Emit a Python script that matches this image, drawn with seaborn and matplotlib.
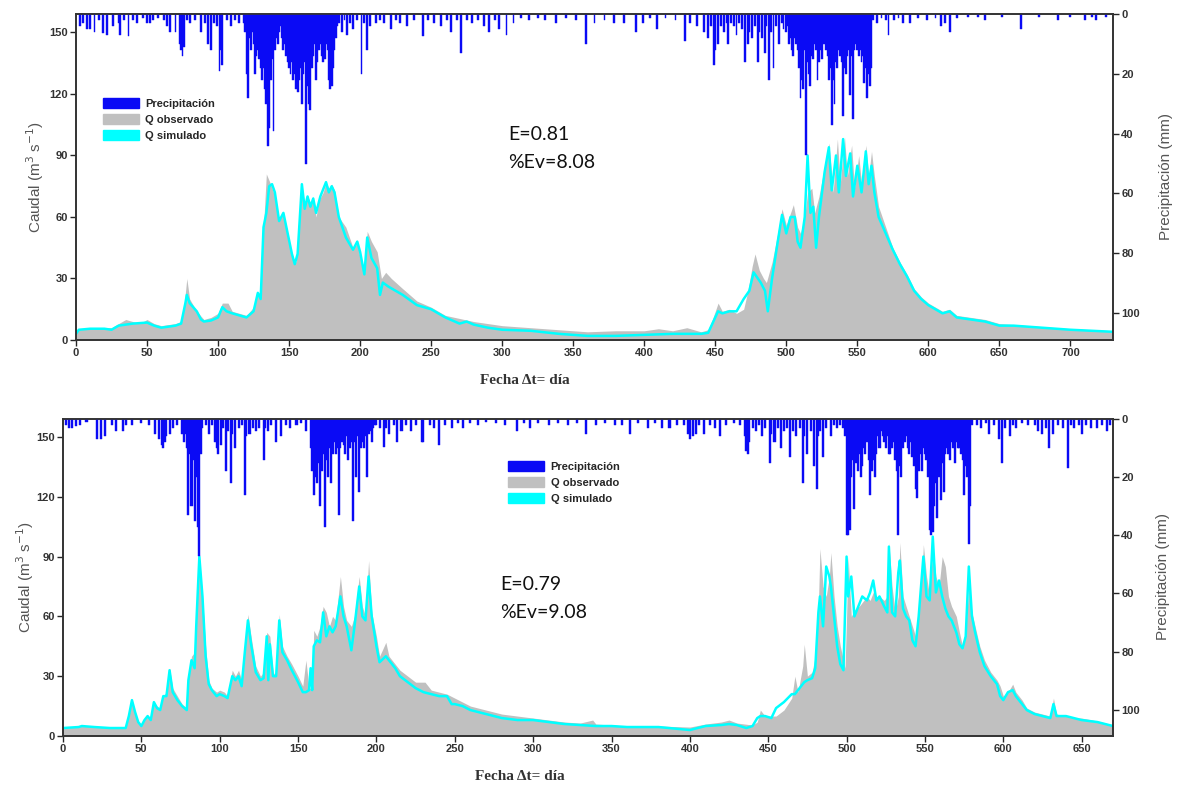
import matplotlib
matplotlib.use("Agg")
import matplotlib.pyplot as plt
from matplotlib.patches import Patch
import seaborn as sns

# ---------------- top panel (730 days) ----------------
TOP_OBS_DAYS = [0, 10, 20, 25, 30, 35, 40, 45, 50, 55, 60, 65, 70, 74, 76, 78, 80, 85, 90, 95,
                100, 103, 107, 110, 115, 120, 125, 128, 130, 132, 134, 137, 140, 143, 146, 149, 152, 155, 157, 159,
                161, 163, 165, 167, 169, 171, 174, 176, 178, 180, 182, 185, 190, 195, 198, 200, 203, 205, 208, 212,
                215, 218, 222, 230, 240, 250, 260, 270, 280, 300, 320, 340, 360, 380, 400, 410, 420, 430, 440, 445,
                448, 450, 452, 455, 460, 465, 470, 473, 476, 478, 481, 484, 486, 490, 494, 497, 500, 503, 505, 508,
                510, 513, 515, 518, 520, 523, 527, 530, 533, 536, 538, 541, 543, 546, 548, 551, 553, 556, 558, 560,
                562, 565, 570, 575, 580, 585, 590, 595, 600, 605, 610, 615, 620, 630, 640, 650, 660, 680, 700, 730]
TOP_OBS_Q = [5, 5.5, 6, 6, 8, 10, 9, 8, 10, 8, 7, 7.5, 8, 9, 16, 30, 20, 14, 10, 11,
             13, 18, 18, 14, 13, 12, 16, 23, 22, 55, 81, 76, 70, 58, 62, 52, 40, 38, 60, 76,
             66, 70, 67, 70, 60, 68, 72, 77, 74, 76, 73, 60, 55, 45, 47, 40, 33, 53, 48, 43,
             30, 33, 30, 25, 19, 16, 12, 10.5, 9, 7, 6, 5, 4, 4.5, 4.5, 5.5, 4.5, 6, 4, 5,
             10, 14, 18, 14, 15, 13, 15, 24, 36, 42, 34, 30, 28, 38, 52, 64, 56, 62, 66, 55,
             52, 60, 72, 74, 62, 70, 85, 96, 72, 98, 76, 99, 80, 95, 74, 90, 76, 95, 80, 92,
             80, 65, 55, 45, 38, 32, 25, 21, 18, 16, 14, 15, 12, 11, 10, 8, 7.5, 6.5, 5.5, 4.5]

TOP_SIM_DAYS = [0, 2, 10, 20, 25, 30, 40, 50, 55, 60, 70, 74, 77, 78, 80, 85, 88, 90, 95, 100,
                103, 106, 110, 115, 120, 125, 128, 130, 132, 134, 136, 138, 140, 143, 146, 149, 152, 154, 156, 159,
                161, 163, 165, 167, 169, 172, 176, 178, 180, 182, 185, 190, 195, 198, 200, 203, 205, 208, 212, 214,
                216, 220, 230, 240, 250, 260, 270, 275, 280, 290, 300, 320, 340, 360, 380, 400, 420, 440, 445, 448,
                452, 455, 460, 465, 470, 474, 477, 479, 482, 485, 487, 490, 494, 497, 500, 503, 506, 508, 510, 513,
                515, 517, 519, 521, 523, 527, 530, 532, 535, 537, 540, 542, 545, 547, 550, 553, 556, 558, 560, 562,
                565, 570, 575, 580, 585, 590, 595, 600, 605, 610, 615, 620, 630, 640, 650, 660, 680, 700, 730]
TOP_SIM_Q = [3, 5, 5.5, 5.5, 5, 7, 8, 8.5, 7, 6, 7, 8, 18, 22, 18, 14, 10, 9, 9.5, 11,
             16, 14, 13, 12, 11, 14, 23, 20, 55, 62, 75, 76, 72, 58, 62, 52, 42, 37, 42, 76,
             64, 70, 65, 69, 62, 70, 77, 72, 75, 72, 60, 50, 44, 48, 43, 32, 50, 40, 35, 22,
             28, 26, 22, 17, 15, 11, 8, 9, 7.5, 6, 5, 4.5, 3, 2, 2, 2.5, 3, 3, 3.5, 8,
             14, 13, 14, 14, 20, 24, 33, 31, 28, 24, 14, 30, 48, 61, 52, 60, 60, 48, 45, 60,
             90, 62, 65, 45, 60, 82, 94, 73, 90, 72, 98, 80, 91, 70, 85, 72, 92, 76, 85, 72,
             60, 52, 44, 37, 31, 24, 20, 17, 15, 13, 14, 11, 10, 9, 7, 7, 6, 5, 4]

TOP_RAIN_DAYS = [3, 5, 8, 10, 13, 16, 19, 22, 26, 30, 31, 34, 37, 40, 43, 47, 50, 52, 54, 58,
                 62, 64, 66, 70, 73, 74, 75, 76, 78, 80, 84, 88, 91, 93, 95, 97, 99, 101, 102, 103,
                 106, 109, 112, 115,
                 118, 119, 120, 121, 122, 123, 124, 125, 126, 127, 128, 129, 130, 131, 132, 133, 134, 135, 136, 137,
                 138, 139, 140, 141, 142, 143, 144, 145, 146, 147, 148, 149, 150, 151, 152, 153, 154, 155, 156, 157,
                 158, 159, 160, 161, 162, 163, 164, 165, 166, 167, 168, 169, 170, 171, 172, 173, 174, 175, 176, 177,
                 178, 179, 180, 181, 182, 183, 184, 185,
                 187, 189, 191, 193, 195, 198, 201, 203, 205, 207, 211, 214, 217, 222, 225, 228, 233, 238, 244, 248,
                 252, 257, 261, 264, 268, 271, 275, 279, 283, 287, 291, 295, 298, 303, 308, 313, 319, 325, 330, 338,
                 345, 352, 359, 365, 372, 379, 386, 394, 399, 404, 409, 415, 422, 429, 432, 437, 442, 445, 447, 449,
                 450, 452, 454, 456, 458, 459, 461, 463, 465, 467, 469, 471, 473, 474, 476, 478, 480, 481, 483, 485,
                 486, 488, 489, 491, 493, 495, 497, 498,
                 500, 501, 502, 503, 504, 505, 506, 507, 508, 509, 510, 511, 512, 513, 514, 515, 516, 517, 518, 519,
                 520, 521, 522, 523, 524, 525, 526, 527, 528, 529, 530, 531, 532, 533, 534, 535, 536, 537, 538, 539,
                 540, 541, 542, 543, 544, 545, 546, 547, 548, 549, 550, 551, 552, 553, 554, 555, 556, 557, 558, 559,
                 560, 561,
                 564, 567, 570, 572, 576, 579, 582, 587, 593, 599, 605, 609, 612, 615, 620, 628, 635, 640, 652, 665,
                 678, 691, 700, 710, 715, 718, 725]
TOP_RAIN_MM = [4, 3, 5, 5, 6, 2, 6.5, 7, 4, 3, 7, 2, 7.5, 2, 3, 1.5, 3, 3, 2, 1.5,
               2, 4, 6, 6, 10, 12, 14, 11, 2, 3, 2, 6, 3, 10, 12, 3, 4, 19, 12, 17,
               2, 4, 2, 3,
               3, 6, 20, 28, 8, 12, 6, 10, 20, 14, 12, 15, 18, 22, 18, 25, 30, 44, 38, 22,
               15, 39, 12, 8, 10, 6, 4, 8, 12, 10, 14, 16, 18, 20, 16, 22, 20, 25, 26, 22,
               18, 30, 20, 16, 50, 24, 30, 32, 18, 14, 10, 22, 16, 12, 10, 14, 16, 15, 10, 12,
               22, 25, 24, 18, 12, 8, 4, 3,
               6, 2, 7, 3, 5, 2, 20, 3, 12, 4, 3, 2, 3, 5, 2, 3, 4, 2, 7.5, 2,
               3, 4, 2, 6, 2, 13, 2, 3, 2, 4, 6, 2, 5, 7, 3, 1.5, 2, 1.5, 2, 3,
               1.5, 2, 10, 3, 2, 3, 3, 6, 3, 1.5, 5, 1.5, 2, 9, 3, 4, 6, 8, 4, 17,
               12, 10, 4, 6, 3, 10, 3, 4, 7, 3, 5, 16, 10, 6, 8, 4, 16, 6, 8, 13,
               4, 22, 6, 18, 4, 10, 3, 5,
               6, 4, 10, 8, 12, 14, 8, 10, 12, 18, 28, 22, 25, 12, 47, 16, 20, 24, 14, 15,
               10, 12, 22, 16, 12, 15, 10, 10, 12, 14, 22, 18, 37, 22, 30, 16, 18, 12, 14, 16,
               34, 18, 20, 14, 12, 27, 14, 35, 12, 10, 12, 14, 12, 16, 14, 23, 18, 28, 20, 24,
               18, 2,
               3, 1.5, 2, 7, 2, 1.5, 3, 3, 1.5, 2, 1.5, 4, 3, 6, 1.5, 1, 1, 2, 1, 5,
               1, 2, 1, 2, 1, 2, 1]

# ---------------- bottom panel (670 days) ----------------
BOT_OBS_DAYS = [0, 10, 12, 20, 30, 40, 42, 44, 46, 48, 50, 52, 54, 56, 58, 60, 62, 64, 66, 68,
                70, 73, 76, 79, 80, 82, 84, 85, 87, 89, 91, 93, 95, 98, 100, 103, 105, 108, 110, 112,
                114, 116, 118, 120, 123, 126, 128, 130, 132, 134, 136, 138, 140, 143, 146, 150, 153, 155, 157, 159,
                160, 162, 164, 166, 168, 170, 172, 174, 177, 179, 181, 184, 186, 189, 191, 193, 195, 197, 200, 202,
                206, 208, 212, 215, 220, 225, 231, 235, 240, 245, 250, 255, 260, 265, 270, 280, 290, 300, 310, 320,
                330, 338, 340, 350, 360, 380, 400, 410, 420, 425, 430, 440, 443, 445, 448, 455, 460, 465, 467, 469,
                472, 473, 475, 478, 480, 482, 483, 485, 487, 489, 490, 492, 494, 496, 498, 499, 500, 501, 503, 505,
                508, 510, 513, 515, 517, 519, 521, 524, 526, 527, 529, 531, 533, 534, 536, 538, 540, 542, 544, 546,
                548, 549, 551, 553, 555, 557, 559, 561, 563, 565, 567, 570, 572, 574, 576, 578, 580, 582, 585, 588,
                592, 596, 598, 600, 603, 606, 608, 612, 615, 620, 625, 630, 632, 634, 640, 645, 650, 660, 670]
BOT_OBS_Q = [4, 4.5, 5, 4.5, 4, 4, 10, 18, 12, 7, 5, 8, 10, 9, 17, 15, 14, 20, 22, 34,
             24, 20, 16, 14, 30, 40, 42, 60, 90, 70, 45, 28, 24, 22, 23, 22, 20, 33, 30, 33,
             28, 45, 61, 50, 35, 30, 32, 52, 50, 32, 30, 61, 45, 40, 36, 30, 25, 38, 24, 24,
             53, 50, 55, 65, 62, 55, 60, 58, 80, 65, 58, 55, 60, 80, 65, 60, 88, 62, 50, 40,
             47, 40, 36, 33, 30, 27, 27, 23, 22, 21, 19, 17, 15, 14, 13, 11, 10, 9, 8, 7,
             6.5, 8, 6, 5.5, 5, 5, 4.5, 6, 7, 8, 6.5, 5.5, 7, 13, 10, 10, 13, 19, 30, 22,
             35, 46, 30, 32, 40, 65, 94, 75, 70, 80, 92, 70, 55, 45, 38, 34, 60, 90, 60, 63,
             65, 67, 70, 68, 72, 70, 70, 68, 70, 97, 75, 62, 70, 97, 70, 65, 60, 55, 50, 60,
             80, 96, 80, 70, 95, 80, 75, 90, 85, 70, 65, 60, 52, 45, 52, 75, 62, 55, 45, 38,
             32, 28, 25, 20, 22, 26, 22, 18, 14, 12, 11, 10, 19, 11, 10, 9, 9, 7.5, 5.5]

BOT_SIM_DAYS = [0, 10, 12, 20, 30, 40, 42, 44, 46, 48, 50, 52, 54, 56, 58, 60, 62, 64, 66, 68,
                70, 73, 76, 79, 80, 82, 84, 85, 87, 89, 91, 93, 95, 98, 100, 103, 105, 108, 110, 112,
                114, 116, 118, 120, 123, 126, 128, 130, 131, 132, 134, 136, 138, 140, 143, 146, 150, 153, 155, 157,
                158, 159, 160, 162, 164, 166, 168, 170, 172, 174, 177, 179, 181, 184, 186, 189, 191, 193, 195, 197,
                200, 202, 206, 208, 212, 215, 220, 225, 230, 235, 240, 245, 248, 250, 255, 260, 265, 270, 280, 290,
                300, 310, 320, 330, 340, 350, 360, 380, 400, 410, 420, 425, 430, 436, 440, 443, 445, 448, 452, 455,
                460, 465, 467, 470, 473, 475, 478, 480, 482, 483, 485, 487, 489, 490, 492, 494, 496, 498, 500, 501,
                503, 505, 508, 510, 513, 515, 517, 519, 521, 524, 526, 527, 529, 531, 533, 534, 536, 538, 540, 542,
                544, 546, 548, 549, 551, 553, 555, 557, 559, 561, 563, 565, 567, 570, 572, 574, 576, 578, 580, 582,
                585, 588, 592, 596, 598, 600, 603, 606, 608, 612, 615, 620, 625, 630, 632, 634, 640, 645, 650, 660,
                670]
BOT_SIM_Q = [4, 4.5, 5, 4.5, 4, 4, 10, 18, 12, 7, 5, 8, 10, 8, 17, 14, 13, 20, 20, 33,
             22, 18, 15, 13, 28, 38, 34, 55, 90, 70, 40, 26, 23, 20, 21, 20, 19, 30, 28, 30,
             25, 42, 58, 46, 32, 28, 29, 50, 28, 46, 30, 30, 58, 42, 38, 33, 27, 22, 22, 23,
             34, 23, 45, 48, 47, 62, 50, 55, 52, 55, 70, 60, 55, 43, 55, 75, 60, 58, 80, 60,
             45, 37, 40, 38, 34, 30, 27, 24, 22, 21, 20, 20, 16, 16, 15, 13, 12, 11, 9, 8,
             8, 7, 6, 5.5, 5, 5, 4.5, 4.5, 3, 5, 5.5, 6, 5.5, 4, 5, 9, 10, 10, 9, 14,
             17, 21, 21, 24, 27, 28, 29, 34, 62, 70, 55, 85, 80, 75, 60, 45, 36, 33, 90, 70,
             80, 60, 66, 70, 68, 72, 78, 68, 70, 65, 62, 95, 62, 60, 82, 88, 64, 60, 58, 48,
             45, 60, 80, 90, 70, 68, 100, 72, 78, 70, 64, 60, 58, 52, 46, 44, 50, 85, 60, 52,
             42, 35, 30, 26, 20, 18, 22, 23, 20, 16, 13, 11, 10, 9, 16, 10, 10, 9, 8, 7,
             5]

BOT_RAIN_DAYS = [2, 4, 6, 8, 11, 15, 22, 24, 27, 31, 34, 38, 40, 44, 50, 55, 59, 61, 63, 64,
                 65, 66, 68, 70, 73, 76, 77, 78, 79, 80, 81, 82, 83, 84, 85, 86, 87, 88, 89, 91,
                 93, 95, 97, 98, 99, 101, 102, 104, 105, 107, 108, 110, 112, 114, 116, 117, 119, 121, 123, 125,
                 128, 129, 131, 133, 136, 139, 142, 145, 149, 152, 155,
                 158, 159, 160, 161, 162, 163, 164, 165, 166, 167, 168, 169, 170, 171, 172, 173, 174, 175, 176, 177,
                 178, 179, 180, 181, 182, 183, 184, 185, 186, 187, 188, 189, 190, 191, 192, 193, 194, 195, 196, 197,
                 198, 199, 200,
                 202, 205, 206, 208, 211, 213, 216, 219, 222, 225, 229, 230, 234, 237, 240, 244, 248, 252, 255, 260,
                 265, 270, 276, 282, 290, 294, 298, 303, 310, 316, 322, 328, 334, 340, 346, 352, 357, 362, 367, 373,
                 378, 382, 387, 392, 396, 399, 400, 402, 404, 406, 409, 413, 416, 419, 423, 428, 432, 435, 436, 437,
                 438, 440, 442, 444, 446, 448, 451, 452, 454, 456, 458, 460, 462, 464, 466, 468, 470, 472, 473, 475,
                 477, 479, 481, 482, 483, 485, 487, 490, 492, 494, 496,
                 498, 499, 500, 501, 502, 503, 504, 505, 506, 507, 508, 509, 510, 511, 512, 513, 514, 515, 516, 517,
                 518, 519, 520, 521, 522, 523, 524, 525, 526, 527, 528, 529, 530, 531, 532, 533, 534, 535, 536, 537,
                 538, 539, 540, 541, 542, 543, 544, 545, 546, 547, 548, 549, 550, 551, 552, 553, 554, 555, 556, 557,
                 558, 559, 560, 561, 562, 563, 564, 565, 566, 567, 568, 569, 570, 571, 572, 573, 574, 575, 576, 577,
                 578, 579, 580,
                 583, 586, 589, 591, 594, 597, 599, 601, 604, 606, 608, 612, 616, 620, 622, 625, 627, 629, 632, 635,
                 638, 641, 643, 645, 648, 650, 653, 656, 660, 663, 666, 668]
BOT_RAIN_MM = [2, 3, 3, 2.5, 2, 1, 7, 7, 6, 2, 4, 4, 2, 2, 1.5, 2, 5, 7, 9, 10,
               8, 6, 5, 3, 2, 5, 8, 5, 10, 33, 12, 30, 14, 35, 20, 37, 47, 12, 3, 2,
               5, 2, 8, 10, 12, 9, 3, 18, 4, 22, 5, 10, 3, 2, 26, 6, 5, 3, 4, 3,
               14, 3, 4, 2, 8, 6, 2, 3, 2, 1.5, 4,
               10, 18, 26, 20, 22, 15, 30, 18, 12, 37, 14, 20, 10, 22, 12, 8, 12, 10, 33, 10,
               8, 9, 12, 6, 14, 10, 8, 35, 8, 20, 6, 25, 10, 8, 10, 6, 20, 5, 4, 8,
               3, 2, 2,
               3, 9.5, 3, 5, 2, 8, 4, 2, 4, 2, 8, 8, 2, 3, 9, 2, 3, 1.5, 3, 1.5,
               2, 1, 1.5, 2, 4, 1.5, 3, 1.5, 2, 1.5, 2, 1.5, 5, 2, 1.5, 2, 2, 5, 1.5, 3,
               1.5, 3, 3, 2, 2, 5, 7, 6, 5, 2, 5, 2, 3, 6, 2, 1.5, 2, 6, 11, 12,
               8, 3, 4, 2, 6, 3, 15, 5, 8, 3, 10, 4, 3, 13, 4, 6, 3, 22, 6, 12,
               4, 16, 24, 6, 4, 13, 3, 6, 2, 3, 2,
               3, 6, 40, 40, 38, 20, 14, 31, 15, 18, 12, 20, 16, 10, 12, 8, 14, 26, 18, 14,
               20, 12, 6, 10, 4, 6, 8, 10, 6, 12, 12, 10, 8, 14, 18, 40, 16, 20, 10, 8,
               6, 10, 12, 8, 13, 16, 24, 27, 18, 12, 18, 10, 12, 14, 20, 38, 40, 39, 30, 22,
               34, 20, 28, 15, 25, 12, 10, 12, 14, 8, 10, 15, 8, 10, 10, 12, 14, 26, 16, 20,
               43, 30, 2,
               2, 3, 1.5, 5, 2, 7, 15, 3, 6, 2, 3, 1.5, 2, 2, 4, 5, 3, 10, 5, 2,
               3, 17, 2, 3, 2, 5, 2, 3, 3, 2, 4, 2]

PANELS = [
    dict(obs=(TOP_OBS_DAYS, TOP_OBS_Q), sim=(TOP_SIM_DAYS, TOP_SIM_Q),
         rain=(TOP_RAIN_DAYS, TOP_RAIN_MM), xmax=730, xticks=range(0, 701, 50),
         stats=("E=0.81", "%Ev=8.08")),
    dict(obs=(BOT_OBS_DAYS, BOT_OBS_Q), sim=(BOT_SIM_DAYS, BOT_SIM_Q),
         rain=(BOT_RAIN_DAYS, BOT_RAIN_MM), xmax=670, xticks=range(0, 651, 50),
         stats=("E=0.79", "%Ev=9.08")),
]

RAIN_COLOR = "#0a0af5"
OBS_COLOR = "#c0c0c0"
SIM_COLOR = "#00ffff"

sns.set_theme(style="white")
plt.rcParams["font.family"] = ["Liberation Sans", "DejaVu Sans"]

W, H = 1184, 785
fig = plt.figure(figsize=(W / 100, H / 100), dpi=100)

# axes boxes in pixels: left, top, right, bottom
boxes = [(76, 14, 1113, 340), (63, 419, 1113, 736)]
legend_pos = [(0.022, 0.755), (0.42, 0.88)]
stats_pos = [(508, 135, 163), (500, 585, 613)]
ylabel_pos = [(35, 177), (25, 577)]
rlabel_pos = [(1166, 177), (1163, 577)]
xlabel_pos = [(525, 380), (520, 776)]


def style_ticks(ax):
    for lab in ax.get_xticklabels() + ax.get_yticklabels():
        lab.set_fontweight("bold")
        lab.set_fontsize(8)
        lab.set_color("#333333")


for i, p in enumerate(PANELS):
    l, t, r, b = boxes[i]
    ax = fig.add_axes([l / W, 1 - b / H, (r - l) / W, (b - t) / H])
    ax.fill_between(p["obs"][0], p["obs"][1], color=OBS_COLOR, linewidth=0, zorder=1)
    sns.lineplot(x=p["sim"][0], y=p["sim"][1], ax=ax, color=SIM_COLOR, linewidth=1.8,
                 errorbar=None, zorder=2)
    ax.set_xlim(0, p["xmax"])
    ax.set_ylim(0, 159)
    ax.set_xticks(list(p["xticks"]))
    ax.set_yticks(range(0, 151, 30))
    ax.set_xlabel("")
    ax.set_ylabel("")
    ax.tick_params(direction="out", length=4, width=1, pad=2, bottom=True, left=True)

    ax2 = ax.twinx()
    ax2.bar(p["rain"][0], p["rain"][1], width=1.3, color=RAIN_COLOR, edgecolor=RAIN_COLOR,
            linewidth=0.3, align="center")
    ax2.set_ylim(109, 0)
    ax2.set_yticks(range(0, 101, 20))
    ax2.tick_params(direction="out", length=4, width=1, pad=2, right=True)
    ax2.set_xlim(0, p["xmax"])

    for a in (ax, ax2):
        for s in a.spines.values():
            s.set_color("#333333")
            s.set_linewidth(1.2)
        style_ticks(a)

    handles = [Patch(color=RAIN_COLOR, label="Precipitación"),
               Patch(color=OBS_COLOR, label="Q observado"),
               Patch(color=SIM_COLOR, label="Q simulado")]
    ax2.legend(handles=handles, loc="upper left", bbox_to_anchor=legend_pos[i], frameon=False,
               prop={"weight": "bold", "size": 8}, handlelength=3.2, handleheight=1.0,
               labelspacing=0.45, handletextpad=0.6, borderaxespad=0)

    sx, sy1, sy2 = stats_pos[i]
    for txt, yy in ((p["stats"][0], sy1), (p["stats"][1], sy2)):
        fig.text(sx / W, 1 - yy / H, txt, ha="left", va="center", fontsize=14,
                 family=["Lato", "DejaVu Sans"], color="#111111")

    yx, yy = ylabel_pos[i]
    fig.text(yx / W, 1 - yy / H, "Caudal (m$^3$ s$^{-1}$)", rotation=90, ha="center",
             va="center", fontsize=11, color="#555555")
    rx, ry = rlabel_pos[i]
    fig.text(rx / W, 1 - ry / H, "Precipitación (mm)", rotation=90, ha="center",
             va="center", fontsize=11, color="#555555")
    xx, xy = xlabel_pos[i]
    fig.text(xx / W, 1 - xy / H, "Fecha \u0394t= día", ha="center", va="center",
             fontsize=11, fontweight="bold", color="#333333",
             family=["Liberation Serif", "DejaVu Serif"])

fig.savefig("out.png", dpi=100)
